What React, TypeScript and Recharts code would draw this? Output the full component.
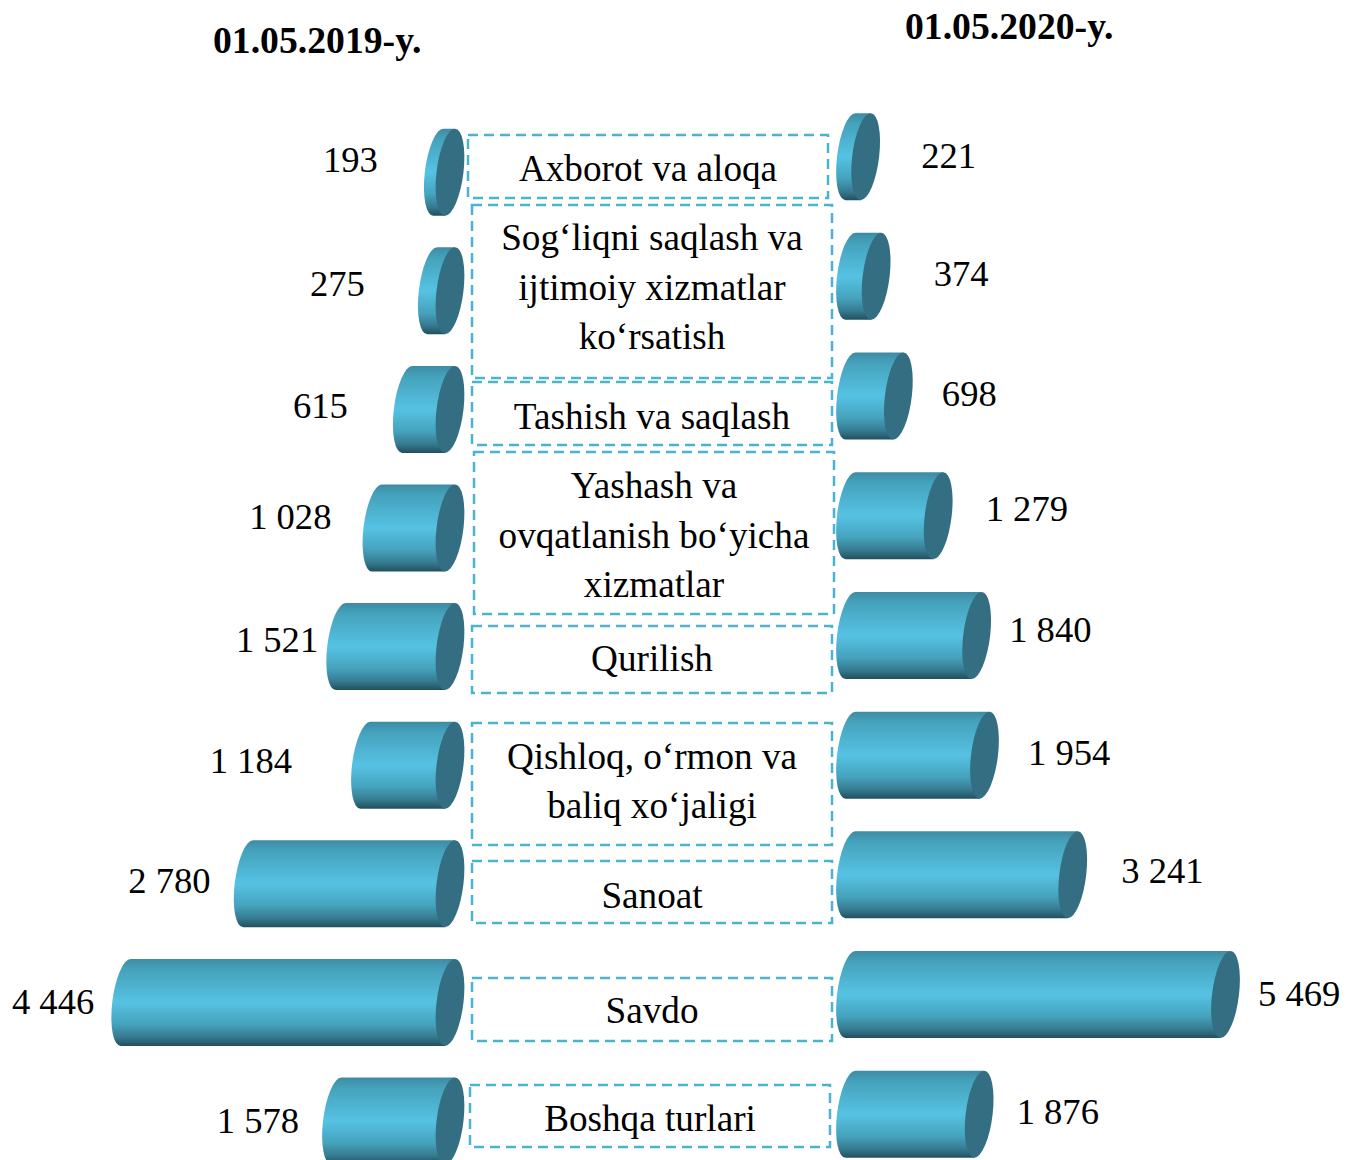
import React from 'react';
import { BarChart, Bar, XAxis, YAxis, LabelList } from 'recharts';

const CATEGORIES = [
  'Axborot va aloqa',
  'Sog‘liqni saqlash va ijtimoiy xizmatlar ko‘rsatish',
  'Tashish va saqlash',
  'Yashash va ovqatlanish bo‘yicha xizmatlar',
  'Qurilish',
  'Qishloq, o‘rmon va baliq xo‘jaligi',
  'Sanoat',
  'Savdo',
  'Boshqa turlari',
];
const VALUES_2019 = [193, 275, 615, 1028, 1521, 1184, 2780, 4446, 1578];
const VALUES_2020 = [221, 374, 698, 1279, 1840, 1954, 3241, 5469, 1876];

const TITLE_2019 = '01.05.2019-y.';
const TITLE_2020 = '01.05.2020-y.';

// the value labels sit at uneven distances in the picture
const GAP_2019 = [46, 53, 45, 31, 8, 59, 23, 17, 23];
const DY_2019 = [-12, -7, -3, -11, -7, -4, -3, 0, 0];
const GAP_2020 = [41, 43, 29, 33, 18, 29, 34, 18, 23];
const DY_2020 = [-1, -2, -2, -7, -5, -2, -4, -1, -2];

// hand drawn text boxes between the two charts
const BOXES = [
  { x: 468, y: 135, h: 63, lines: [168], text: ['Axborot va aloqa'] },
  { x: 472, y: 205, h: 173, lines: [237, 287, 336], text: ['Sog‘liqni saqlash va', 'ijtimoiy xizmatlar', 'ko‘rsatish'] },
  { x: 472, y: 382, h: 63, lines: [416], text: ['Tashish va saqlash'] },
  { x: 474, y: 452, h: 162, lines: [485, 535, 584], text: ['Yashash va', 'ovqatlanish bo‘yicha', 'xizmatlar'] },
  { x: 472, y: 626, h: 67, lines: [658], text: ['Qurilish'] },
  { x: 472, y: 723, h: 122, lines: [756, 805], text: ['Qishloq, o‘rmon va', 'baliq xo‘jaligi'] },
  { x: 472, y: 861, h: 62, lines: [895], text: ['Sanoat'] },
  { x: 472, y: 978, h: 63, lines: [1010], text: ['Savdo'] },
  { x: 470, y: 1085, h: 62, lines: [1118], text: ['Boshqa turlari'] },
];

const FONT = '"Liberation Serif", serif';
const RX = 13.5;
const BAR_H = 87;

const data2019 = CATEGORIES.map((name, i) => ({ name, value: VALUES_2019[i] }));
const data2020 = CATEGORIES.map((name, i) => ({ name, value: VALUES_2020[i] }));

const formatValue = (v: number) => String(v).replace(/\B(?=(\d{3})+$)/g, ' ');

const Cylinder = ({ x, y, width, height, extra, fill }: any) => {
  const left = Math.min(x, x + width) - extra.left;
  const right = Math.max(x, x + width) + extra.right;
  const cy = y + height / 2;
  const ry = height / 2;
  const capX = right - RX;
  const bodyX = left + RX;
  return (
    <g transform={`translate(${(left + right) / 2} ${cy}) skewX(-6.5) translate(${-(left + right) / 2} ${-cy})`}>
      <path
        d={`M${bodyX} ${y} L${capX} ${y} L${capX} ${y + height} L${bodyX} ${y + height} A${RX} ${ry} 0 0 1 ${bodyX} ${y} Z`}
        fill={`url(#${fill})`}
      />
      <ellipse cx={capX} cy={cy} rx={RX} ry={ry} fill="#336e82" />
    </g>
  );
};

const Gradient = ({ id }: { id: string }) => (
  <defs>
    <linearGradient id={id} x1="0" y1="0" x2="0" y2="1">
      <stop offset="0%" stopColor="#3d8ba3" />
      <stop offset="12%" stopColor="#45a2bc" />
      <stop offset="50%" stopColor="#56c2e3" />
      <stop offset="75%" stopColor="#45a3bd" />
      <stop offset="90%" stopColor="#367a8f" />
      <stop offset="100%" stopColor="#214f5e" />
    </linearGradient>
  </defs>
);

const chartStyle: React.CSSProperties = { position: 'absolute', left: 0, top: 0 };

const App = () => {
  const label2019 = ({ x, y, width, height, index, value }: any) => (
    <text
      x={Math.min(x, x + width) - GAP_2019[index]}
      y={y + height / 2 + DY_2019[index] + 12}
      textAnchor="end"
      fontFamily={FONT}
      fontSize={36.6}
      fill="#000"
    >
      {formatValue(value)}
    </text>
  );
  const label2020 = ({ x, y, width, height, index, value }: any) => (
    <text
      x={x + width + GAP_2020[index]}
      y={y + height / 2 + DY_2020[index] + 12}
      textAnchor="start"
      fontFamily={FONT}
      fontSize={36.6}
      fill="#000"
    >
      {formatValue(value)}
    </text>
  );

  return (
    <div style={{ position: 'absolute', left: 0, top: 0, width: 1346, height: 1160, overflow: 'hidden', background: '#fff' }}>
      <div style={chartStyle}>
        <BarChart
          width={1346}
          height={1200}
          layout="vertical"
          data={data2019}
          barSize={BAR_H}
          margin={{ top: 112.7, right: 908, bottom: 19.9, left: 70.5 }}
        >
          <Gradient id="cyl2019" />
          <XAxis type="number" domain={[0, 5000]} reversed hide />
          <YAxis type="category" dataKey="name" hide />
          <Bar
            dataKey="value"
            isAnimationActive={false}
            shape={(p: any) => <Cylinder {...p} fill="cyl2019" extra={{ left: -1, right: 25.5 }} />}
          >
            <LabelList dataKey="value" content={label2019} />
          </Bar>
        </BarChart>
      </div>
      <div style={chartStyle}>
        <BarChart
          width={1346}
          height={1200}
          layout="vertical"
          data={data2020}
          barSize={BAR_H}
          margin={{ top: 97.15, right: 97, bottom: 25.55, left: 865 }}
        >
          <Gradient id="cyl2020" />
          <XAxis type="number" domain={[0, 5600]} hide />
          <YAxis type="category" dataKey="name" hide />
          <Bar
            dataKey="value"
            isAnimationActive={false}
            shape={(p: any) => <Cylinder {...p} fill="cyl2020" extra={{ left: 28, right: -1 }} />}
          >
            <LabelList dataKey="value" content={label2020} />
          </Bar>
        </BarChart>
      </div>
      <svg width={1346} height={1160} style={{ position: 'absolute', left: 0, top: 0 }}>
        <text x={213} y={53} fontFamily={FONT} fontSize={37.7} fontWeight="bold" fill="#000">{TITLE_2019}</text>
        <text x={905} y={39} fontFamily={FONT} fontSize={37.7} fontWeight="bold" fill="#000">{TITLE_2020}</text>
        {BOXES.map((b, i) => (
          <g key={i}>
            <rect x={b.x} y={b.y} width={360} height={b.h} fill="none" stroke="#4ab3cf" strokeWidth={2.5} strokeDasharray="10 6" />
            {b.text.map((t, j) => (
              <text key={j} x={b.x + 180} y={b.lines[j] + 12.5} textAnchor="middle" fontFamily={FONT} fontSize={37.2} fill="#000">{t}</text>
            ))}
          </g>
        ))}
      </svg>
    </div>
  );
};

export default App;
